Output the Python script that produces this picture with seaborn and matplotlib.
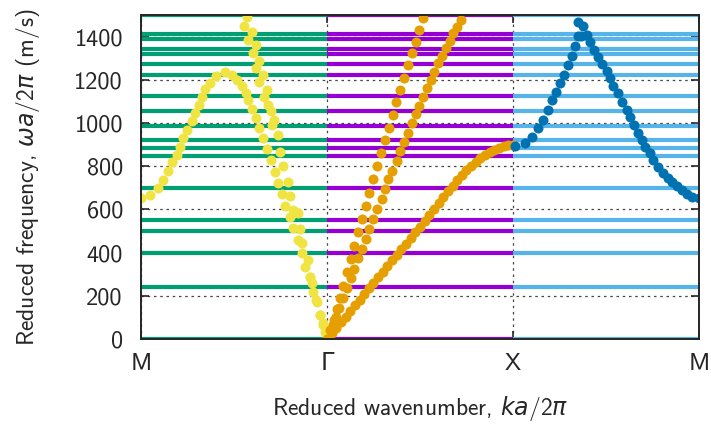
import matplotlib
matplotlib.use("Agg")
import matplotlib.pyplot as plt
import seaborn as sns

# path through the Brillouin zone
path_ticks = [0, 1, 2, 3]
path_labels = ["M", "Γ", "X", "M"]

# flat bands, same frequencies on each segment (m/s)
flat_freqs = [0, 240, 400, 502, 551, 698, 845, 884, 922, 987, 1057, 1127,
              1223, 1273, 1321, 1344, 1390, 1412, 1500]
seg_colors = ["#009e73", "#9400d3", "#56b4e9"]

# M -> Gamma, yellow branch (rise to a maximum then down to zero)
mg_a_k = [0.0, 0.048, 0.091, 0.118, 0.145, 0.167, 0.194, 0.210, 0.226, 0.247,
          0.274, 0.290, 0.312, 0.328, 0.344, 0.371, 0.403, 0.452, 0.489, 0.516,
          0.543, 0.565, 0.575, 0.597, 0.618, 0.634, 0.656, 0.677, 0.699, 0.720,
          0.737, 0.758, 0.774, 0.801, 0.817, 0.844, 0.866, 0.882, 0.909, 0.925,
          0.946, 0.962, 0.978, 0.989, 1.0]
mg_a_f = [653, 667, 700, 737, 778, 820, 853, 890, 931, 968,
          1010, 1047, 1084, 1121, 1158, 1186, 1219, 1237, 1223, 1200,
          1172, 1140, 1108, 1066, 1024, 978, 931, 880, 829, 774,
          723, 672, 616, 565, 514, 459, 399, 334, 287, 218,
          171, 111, 74, 32, 0]

# M -> Gamma, yellow steep branch
mg_b_k = [0.570, 0.554, 0.597, 0.575, 0.618, 0.602, 0.634, 0.618, 0.656, 0.634,
          0.677, 0.661, 0.683, 0.699, 0.715, 0.704, 0.737, 0.747, 0.763, 0.790,
          0.801, 0.817, 0.844, 0.855, 0.866, 0.898, 0.909, 0.919, 0.941, 0.962,
          0.978, 1.0]
mg_b_f = [1492, 1450, 1423, 1386, 1362, 1325, 1288, 1256, 1223, 1191,
          1154, 1121, 1084, 1057, 1015, 992, 945, 867, 802, 728,
          663, 598, 584, 510, 445, 366, 287, 259, 181, 111,
          65, 0]

# Gamma -> X, orange acoustic branch
gx_a_k = [1.000, 1.025, 1.050, 1.075, 1.100, 1.125, 1.150, 1.175, 1.200, 1.225,
          1.250, 1.275, 1.300, 1.325, 1.350, 1.375, 1.400, 1.425, 1.450, 1.475,
          1.500, 1.525, 1.550, 1.575, 1.600, 1.625, 1.650, 1.675, 1.700, 1.725,
          1.750, 1.775, 1.800, 1.825, 1.850, 1.875, 1.900, 1.925, 1.950, 1.975,
          2.000]
gx_a_f = [0, 26, 52, 78, 104, 130, 156, 182, 208, 234,
          260, 286, 312, 338, 364, 390, 416, 442, 468, 494,
          520, 546, 574, 602, 630, 657, 684, 710, 735, 759,
          782, 802, 820, 837, 852, 865, 876, 886, 893, 898,
          900]

# Gamma -> X, orange steep branches
gx_b_k = [1.016, 1.038, 1.054, 1.070, 1.086, 1.108, 1.129, 1.145, 1.167, 1.188,
          1.210, 1.226, 1.247, 1.269, 1.290, 1.312, 1.333, 1.355, 1.371, 1.392,
          1.414, 1.435, 1.457, 1.478, 1.495, 1.516]
gx_b_f = [42, 88, 139, 190, 246, 310, 371, 431, 496, 556,
          616, 677, 741, 802, 862, 922, 978, 1038, 1098, 1154,
          1209, 1270, 1325, 1376, 1432, 1487]
gx_c_k = [1.032, 1.048, 1.065, 1.086, 1.108, 1.129, 1.145, 1.167, 1.188, 1.210,
          1.226, 1.247, 1.269, 1.296, 1.312, 1.328, 1.349, 1.376, 1.392, 1.414,
          1.435, 1.457, 1.478, 1.495, 1.516, 1.538, 1.559, 1.575, 1.597, 1.618,
          1.640, 1.661, 1.677, 1.699, 1.720]
gx_c_f = [65, 102, 144, 190, 236, 283, 324, 375, 417, 463,
          510, 556, 602, 649, 695, 741, 778, 825, 871, 913,
          955, 1001, 1043, 1080, 1121, 1163, 1200, 1237, 1279, 1311,
          1348, 1381, 1418, 1446, 1478]

# X -> M, blue branch
xm_k = [2.011, 2.065, 2.102, 2.134, 2.161, 2.188, 2.210, 2.231, 2.253, 2.274,
        2.296, 2.317, 2.333, 2.349, 2.366, 2.349, 2.376, 2.398, 2.414, 2.435,
        2.457, 2.478, 2.505, 2.522, 2.538, 2.565, 2.586, 2.613, 2.629, 2.651,
        2.672, 2.694, 2.710, 2.737, 2.753, 2.780, 2.806, 2.833, 2.855, 2.882,
        2.909, 2.935, 2.962, 3.0]
xm_f = [894, 908, 936, 978, 1015, 1061, 1108, 1145, 1186, 1223,
        1270, 1311, 1358, 1404, 1404, 1469, 1450, 1409, 1376, 1339,
        1307, 1274, 1242, 1209, 1172, 1140, 1098, 1061, 1029, 992,
        955, 922, 890, 862, 829, 797, 769, 746, 728, 708,
        690, 672, 658, 653]

sns.set_style("ticks")
plt.rcParams["font.family"] = ["cmss10", "DejaVu Sans"]
plt.rcParams["mathtext.fontset"] = "custom"
plt.rcParams["mathtext.rm"] = "cmss10"
plt.rcParams["mathtext.it"] = "DejaVu Sans:italic"
plt.rcParams["axes.unicode_minus"] = False

fig = plt.figure(figsize=(7.11, 4.24), dpi=100)
ax = fig.add_axes([0.1983, 0.2005, 0.7848, 0.7641])

# flat bands, one colour per segment
for i, c in enumerate(seg_colors):
    ax.hlines(flat_freqs, path_ticks[i], path_ticks[i + 1], colors=c,
              linewidth=3, zorder=2)

dot = dict(s=52, linewidth=0, zorder=3, ax=ax)
sns.scatterplot(x=mg_a_k, y=mg_a_f, color="#f0e442", **dot)
sns.scatterplot(x=mg_b_k, y=mg_b_f, color="#f0e442", **dot)
sns.scatterplot(x=gx_a_k, y=gx_a_f, color="#e69f00", **dot)
sns.scatterplot(x=gx_b_k, y=gx_b_f, color="#e69f00", **dot)
sns.scatterplot(x=gx_c_k, y=gx_c_f, color="#e69f00", **dot)
sns.scatterplot(x=xm_k, y=xm_f, color="#0072b2", **dot)

ax.set_xlim(0, 3)
ax.set_ylim(0, 1500)
ax.set_xticks(path_ticks)
ax.set_xticklabels(path_labels)
ax.set_yticks(range(0, 1401, 200))
ax.grid(True, linestyle=(0, (2, 3)), color="#444444", linewidth=0.9)
ax.set_axisbelow(True)
ax.tick_params(direction="in", length=6, width=1.2, labelsize=17.5,
               top=True, right=True, pad=10)
ax.tick_params(axis="y", pad=13)
for sp in ax.spines.values():
    sp.set_linewidth(1.4)
    sp.set_zorder(5)

ax.set_xlabel(r"Reduced wavenumber, $ka/2\pi$", fontsize=17, labelpad=14)
ax.set_ylabel(r"Reduced frequency, $\omega a/2\pi$ (m/s)", fontsize=17,
              labelpad=23)

fig.savefig("out.png", dpi=100)
